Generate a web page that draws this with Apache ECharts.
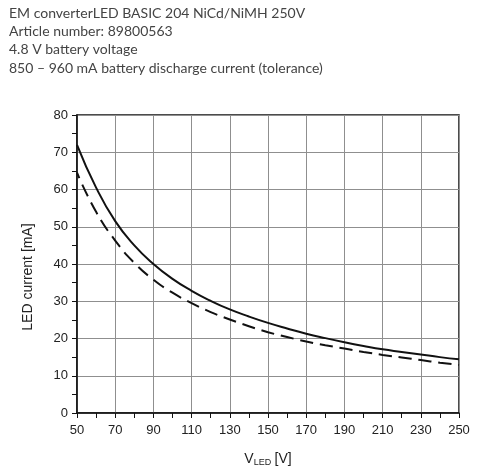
<!DOCTYPE html>
<html>
<head>
<meta charset="utf-8">
<script src="https://cdn.jsdelivr.net/npm/echarts@6/dist/echarts.min.js"></script>
<style>
  html, body { margin: 0; padding: 0; background: #fff; }
  #chart { width: 480px; height: 474px; }
</style>
</head>
<body>
<div id="chart"></div>
<script>
// values (V_LED in volts, current in mA)
var voltage = [50, 60, 70, 80, 90, 100, 110, 120, 130, 140, 150, 160, 170, 180, 190, 200, 210, 220, 230, 240, 250];
var currentSolid = [72, 60.5, 51.5, 45, 40, 36, 32.8, 30.1, 27.8, 25.9, 24.2, 22.7, 21.3, 20.1, 19.0, 18.0, 17.1, 16.4, 15.7, 15.0, 14.4];
var currentDashed = [64.5, 54, 46.3, 40.3, 35.8, 32.3, 29.5, 27.1, 25.1, 23.3, 21.7, 20.4, 19.2, 18.2, 17.3, 16.4, 15.6, 14.9, 14.2, 13.5, 12.9];
var titleLines = [
    'EM converterLED BASIC 204 NiCd/NiMH 250V',
    'Article number: 89800563',
    '4.8 V battery voltage',
    '850 \u2013 960 mA battery discharge current (tolerance)'
];

function pairs(xs, ys) {
    return xs.map(function (x, i) { return [x, ys[i]]; });
}

var chart = echarts.init(document.getElementById('chart'));

var axisFont = 'Liberation Sans Narrow, Arial Narrow, Liberation Sans, sans-serif';
var labelStyle = { color: '#222', fontSize: 13, fontFamily: axisFont };

chart.setOption({
    animation: false,
    title: {
        text: titleLines.join('\n'),
        left: 4,
        top: -1,
        textStyle: { color: '#444', fontSize: 14, fontWeight: 'normal', fontFamily: 'Lato, sans-serif', lineHeight: 18.3 }
    },
    grid: {
        left: 77, right: 21, top: 115, bottom: 61,
        show: true, borderColor: '#111', borderWidth: 1.5, backgroundColor: 'transparent'
    },
    xAxis: {
        type: 'value',
        min: 50, max: 250, interval: 20,
        name: '{v|V}{s|LED} {v|[V]}',
        nameLocation: 'middle',
        nameGap: 38,
        nameTextStyle: {
            rich: {
                v: { fontSize: 14, color: '#222', fontFamily: axisFont },
                s: { fontSize: 9, color: '#222', verticalAlign: 'bottom', padding: [7, 0, 0, 0], fontFamily: axisFont }
            }
        },
        axisLine: { lineStyle: { color: '#111', width: 1.5 } },
        axisTick: { show: true, length: 5, lineStyle: { color: '#111' } },
        minorTick: { show: true, splitNumber: 2, length: 5, lineStyle: { color: '#111' } },
        axisLabel: Object.assign({ margin: 11 }, labelStyle),
        splitLine: { show: true, lineStyle: { color: '#8f8f8f', width: 1 } }
    },
    yAxis: {
        type: 'value',
        min: 0, max: 80, interval: 10,
        name: 'LED current [mA]',
        nameLocation: 'middle',
        nameGap: 42,
        nameTextStyle: { fontSize: 14, color: '#222', fontFamily: axisFont, padding: [0, 26, 0, 0] },
        axisLine: { show: true, lineStyle: { color: '#111', width: 1.5 } },
        axisTick: { show: true, length: 5, lineStyle: { color: '#111' } },
        minorTick: { show: true, splitNumber: 2, length: 5, lineStyle: { color: '#111' } },
        axisLabel: Object.assign({ margin: 9 }, labelStyle),
        splitLine: { show: true, lineStyle: { color: '#8f8f8f', width: 1 } }
    },
    series: [
        {
            type: 'line',
            data: pairs(voltage, currentSolid),
            smooth: true,
            showSymbol: false,
            lineStyle: { color: '#111', width: 2 }
        },
        {
            type: 'line',
            data: pairs(voltage, currentDashed),
            smooth: true,
            showSymbol: false,
            lineStyle: { color: '#111', width: 2, type: [13, 7], dashOffset: 7 }
        }
    ]
});
</script>
</body>
</html>
